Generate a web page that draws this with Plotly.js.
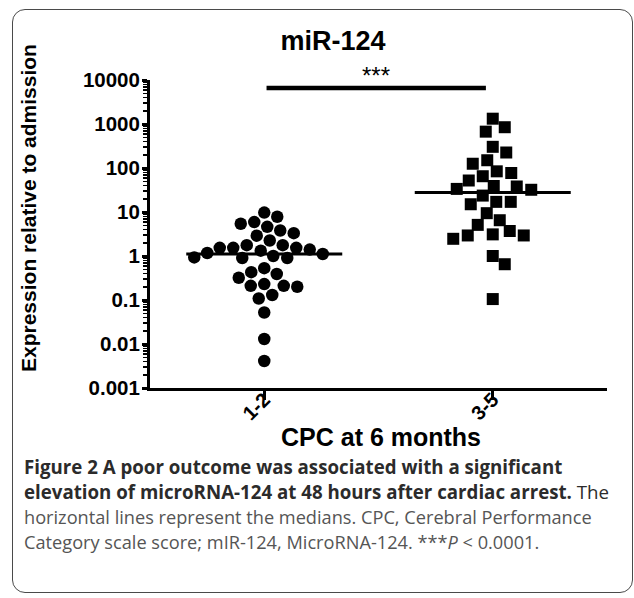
<!DOCTYPE html>
<html>
<head>
<meta charset="utf-8">
<script src="https://cdn.plot.ly/plotly-3.0.1.min.js"></script>
<style>
  html, body { margin: 0; padding: 0; background: #fff; }
  #wrap { position: relative; width: 634px; height: 598px; overflow: hidden; }
  #chart { position: absolute; left: 0; top: 0; width: 634px; height: 598px; }
  #frame { position: absolute; left: 12px; top: 9px; width: 621px; height: 584px;
           border: 1.5px solid #4a4a4a; border-radius: 13px; box-sizing: border-box; pointer-events: none; }
</style>
</head>
<body>
<div id="wrap">
  <div id="chart"></div>
  <div id="frame"></div>
</div>
<script>
// ---- data ----
const categories = ['1-2', '3-5'];
const group12 = [9.7, 5.9, 4.6, 5.4, 7.8, 3.3, 3.8, 2.9, 2.25, 1.4, 1.76, 1.0, 1.11, 1.53, 0.9,
                 1.53, 1.53, 0.9, 1.76, 0.93, 1.17, 1.32, 0.53, 0.39, 0.43, 0.32, 0.23, 0.21,
                 0.13, 0.2, 0.21, 0.108, 0.052, 0.013, 0.0041];
const group35 = [1320, 670, 845, 303, 150, 125, 225, 77, 52, 65, 84, 38, 32, 33.5, 39, 23.6,
                 17, 15, 17, 9.4, 6.5, 3.7, 2.93, 2.46, 2.93, 3.1, 5.1, 1.0, 0.65, 0.105];
const yTickVals = [0.001, 0.01, 0.1, 1, 10, 100, 1000, 10000];
const yTickText = ['0.001', '0.01', '0.1', '1', '10', '100', '1000', '10000'];
const sigBarValue = 6600;     // height of significance bar
const sigText = '***';
const chartTitle = 'miR-124';
const xTitle = 'CPC at 6 months';
const yTitle = 'Expression relative to admission';
const captionLines = [
  '<b>Figure 2 A poor outcome was associated with a significant</b>',
  '<b>elevation of microRNA-124 at 48 hours after cardiac arrest.</b> The',
  'horizontal lines represent the medians. CPC, Cerebral Performance',
  'Category scale score; mIR-124, MicroRNA-124. ***<i>P</i> &lt; 0.0001.'
];

// ---- layout geometry ----
const W = 634, H = 598;
const L = 150, R = 607, T = 80, B = 388;
const pw = R - L, ph = B - T;
const xRange = [-0.5, 1.5], yRange = [-3, 4];
const pxPerX = pw / (xRange[1] - xRange[0]);
const pxPerDec = ph / (yRange[1] - yRange[0]);
const px2paper = p => (p - L) / pw;
const py2paper = p => (B - p) / ph;

function median(a) {
  const s = [...a].sort((p, q) => p - q);
  const n = s.length;
  return n % 2 ? s[(n - 1) / 2] : (s[n / 2 - 1] + s[n / 2]) / 2;
}

// beeswarm: offsets computed in pixel space so markers don't collide
function swarm(vals, sep) {
  const ypix = v => (Math.log10(v) - yRange[0]) * pxPerDec;
  const order = vals.map((v, i) => i).sort((a, b) => vals[b] - vals[a]);
  const placed = [];
  const xs = new Array(vals.length).fill(0);
  let flip = 1;
  for (const i of order) {
    const y = ypix(vals[i]);
    for (let k = 0; k < 400; k++) {
      const cands = k === 0 ? [0] : [flip * k * 0.5, -flip * k * 0.5];
      let found = null;
      for (const c of cands) {
        if (placed.every(p => Math.hypot(p.x - c, p.y - y) >= sep)) { found = c; break; }
      }
      if (found !== null) {
        xs[i] = found; placed.push({ x: found, y: y });
        if (found !== 0) flip = -flip;
        break;
      }
    }
  }
  return xs.map(p => p / pxPerX);
}

const off1 = swarm(group12, 13.5);
const off2 = swarm(group35, 14.5);
const halfLine = 78 / pxPerX;

const traces = [
  { type: 'scatter', mode: 'markers', x: group12.map((v, i) => 0 + off1[i]), y: group12,
    marker: { symbol: 'circle', size: 12.5, color: '#000' }, hoverinfo: 'y', showlegend: false },
  { type: 'scatter', mode: 'markers', x: group35.map((v, i) => 1 + off2[i]), y: group35,
    marker: { symbol: 'square', size: 12, color: '#000' }, hoverinfo: 'y', showlegend: false },
  { type: 'scatter', mode: 'lines', x: [0 - halfLine, 0 + halfLine], y: [median(group12), median(group12)],
    line: { color: '#000', width: 3 }, hoverinfo: 'skip', showlegend: false },
  { type: 'scatter', mode: 'lines', x: [1 - halfLine, 1 + halfLine], y: [median(group35), median(group35)],
    line: { color: '#000', width: 3 }, hoverinfo: 'skip', showlegend: false },
  { type: 'scatter', mode: 'lines', x: [0.01, 0.97], y: [sigBarValue, sigBarValue],
    line: { color: '#000', width: 4.5 }, hoverinfo: 'skip', showlegend: false }
];

const boldArial = { family: 'Liberation Sans, Arial, sans-serif', color: '#000', weight: 'bold' };

const annotations = [
  { xref: 'x', yref: 'y', x: 0.49, y: Math.log10(sigBarValue), yshift: 12, text: sigText,
    showarrow: false, font: { family: 'Liberation Sans, Arial, sans-serif', size: 24, color: '#000' } },
  { xref: 'paper', yref: 'paper', x: px2paper(381), y: py2paper(437), text: xTitle, showarrow: false,
    xanchor: 'center', yanchor: 'middle', font: Object.assign({ size: 25 }, boldArial) },
  { xref: 'paper', yref: 'paper', x: px2paper(28), y: py2paper(208), text: yTitle, showarrow: false,
    textangle: -90, xanchor: 'center', yanchor: 'middle', font: Object.assign({ size: 21 }, boldArial) }
];
const capY = [466, 492, 517, 542];
captionLines.forEach((t, i) => {
  annotations.push({ xref: 'paper', yref: 'paper', x: px2paper(22), y: py2paper(capY[i]), text: t,
    showarrow: false, xanchor: 'left', yanchor: 'middle', align: 'left',
    font: { family: 'Open Sans, sans-serif', size: i < 2 ? 18.7 : 18.2, color: i < 2 ? '#2b2b2b' : '#555' } });
});

const layout = {
  width: W, height: H,
  margin: { l: L, r: W - R, t: T, b: H - B, pad: 0 },
  paper_bgcolor: '#fff', plot_bgcolor: '#fff',
  title: { text: chartTitle, xref: 'container', yref: 'container', x: 333 / W, y: 1 - 41 / H,
           xanchor: 'center', yanchor: 'middle', font: Object.assign({ size: 27 }, boldArial) },
  xaxis: {
    range: xRange, tickvals: [0, 1], ticktext: categories, tickangle: -45,
    showline: true, linewidth: 3, linecolor: '#000', showgrid: false, zeroline: false,
    ticks: 'outside', ticklen: 9, tickwidth: 3, tickcolor: '#000', ticklabelstandoff: -20,
    tickfont: Object.assign({ size: 20 }, boldArial)
  },
  yaxis: {
    type: 'log', range: yRange, tickvals: yTickVals, ticktext: yTickText,
    showline: true, linewidth: 3, linecolor: '#000', showgrid: false, zeroline: false,
    ticks: 'outside', ticklen: 5, tickwidth: 3, tickcolor: '#000', ticklabelstandoff: -2,
    minor: { ticks: 'outside', ticklen: 4, tickwidth: 1.5, tickcolor: '#000', dtick: 'D1', showgrid: false },
    tickfont: Object.assign({ size: 20.5 }, boldArial)
  },
  annotations: annotations,
  showlegend: false
};

Plotly.newPlot('chart', traces, layout, { displayModeBar: false, staticPlot: true });
</script>
</body>
</html>
